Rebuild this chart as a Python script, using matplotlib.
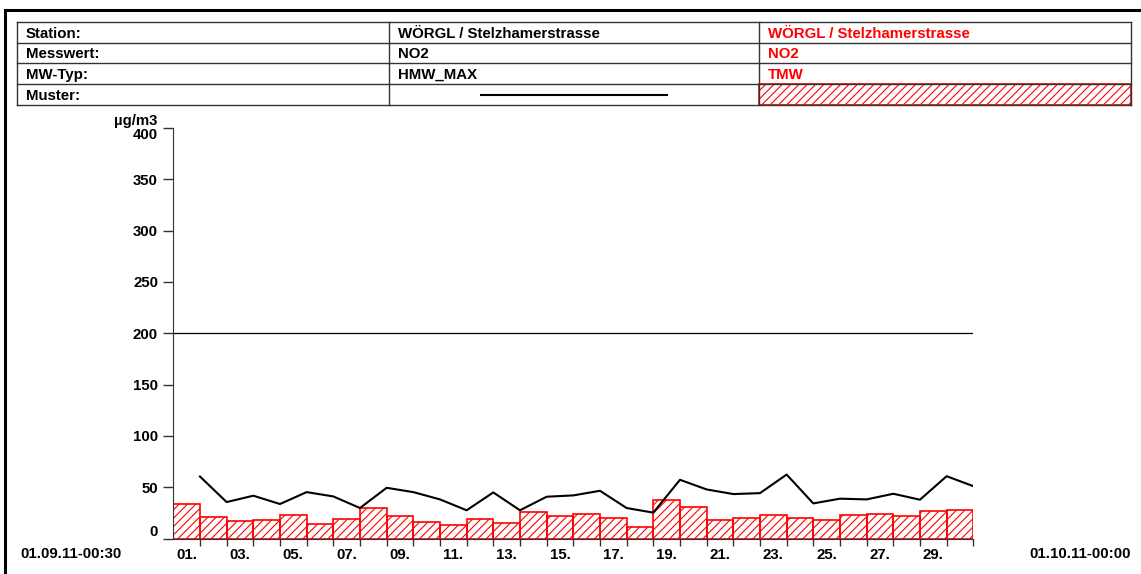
import numpy as np
import matplotlib
matplotlib.use('Agg')
import matplotlib.pyplot as plt
import matplotlib.patches as mpatches
from matplotlib.lines import Line2D

plt.rcParams['font.family'] = ['Liberation Sans', 'DejaVu Sans']
plt.rcParams['font.weight'] = 'bold'
plt.rcParams['hatch.linewidth'] = 0.8

# ---- data ----
days = np.arange(1, 31)
hmw_max = [60.4, 35.5, 41.7, 33.6, 45.2, 41.0, 29.7, 49.4, 45.2, 38.1,
           27.5, 44.9, 27.5, 40.7, 42.0, 46.5, 29.7, 25.2, 57.2, 47.8,
           43.3, 44.2, 62.3, 34.2, 38.8, 38.1, 43.6, 37.8, 60.7, 51.0]
tmw = [33.3, 21.0, 17.1, 17.8, 22.6, 14.5, 19.4, 29.7, 22.3, 16.5,
       13.6, 19.4, 15.5, 25.5, 21.6, 23.9, 20.0, 11.6, 37.8, 31.0,
       18.4, 20.3, 23.3, 20.3, 17.8, 23.3, 24.2, 22.0, 26.5, 27.8]
limit = 200
y_ticks = [0, 50, 100, 150, 200, 250, 300, 350, 400]
day_labels = [f'{d:02d}.' for d in range(1, 31, 2)]

row_labels = ['Station:', 'Messwert:', 'MW-Typ:', 'Muster:']
col_black = ['WÖRGL / Stelzhamerstrasse', 'NO2', 'HMW_MAX']
col_red = ['WÖRGL / Stelzhamerstrasse', 'NO2', 'TMW']
start_label = '01.09.11-00:30'
end_label = '01.10.11-00:00'

W, H = 1141, 574
fig = plt.figure(figsize=(W / 100, H / 100), dpi=100)


def fx(x):
    return x / W


def fy(y):
    return 1 - y / H


FS = 10.8

# ---- outer frame (top + left) ----
fig.add_artist(Line2D([fx(5), fx(W)], [fy(9.5), fy(9.5)], color='black', lw=2.2))
fig.add_artist(Line2D([fx(5), fx(5)], [fy(9.5), fy(H)], color='black', lw=2.2))

# ---- header table ----
xs = [17, 389, 759, 1131]
ys = [22, 43, 63, 84, 105]
grid_c = '#333333'
for y in ys:
    fig.add_artist(Line2D([fx(xs[0]), fx(xs[-1])], [fy(y), fy(y)], color=grid_c, lw=1))
for x in xs:
    fig.add_artist(Line2D([fx(x), fx(x)], [fy(ys[0]), fy(ys[-1])], color=grid_c, lw=1))

for i, lab in enumerate(row_labels):
    yb = fy(ys[i + 1] - 5)
    fig.text(fx(xs[0] + 9), yb, lab, fontsize=FS, va='baseline', ha='left')
    if i < 3:
        fig.text(fx(xs[1] + 9), yb, col_black[i], fontsize=FS, va='baseline', ha='left')
        fig.text(fx(xs[2] + 9), yb, col_red[i], fontsize=FS, va='baseline', ha='left',
                 color='red')

# Muster row: line sample and hatch sample
ym = fy(95)
fig.add_artist(Line2D([fx(481), fx(667)], [ym, ym], color='black', lw=1.5))
hatch_box = mpatches.Rectangle((fx(xs[2]), fy(ys[4])), fx(xs[3] - xs[2]),
                               (ys[4] - ys[3]) / H, transform=fig.transFigure,
                               facecolor='none', edgecolor='red', hatch='////', lw=1.2)
fig.add_artist(hatch_box)

# ---- chart ----
ax = fig.add_axes([fx(173.3), 1 - 538.5 / H, 800 / W, 410.5 / H])
ax.bar(days - 0.5, tmw, width=1, facecolor='none', edgecolor='red',
       hatch='////', lw=1.2, zorder=2)
ax.plot(days, hmw_max, color='black', lw=1.5, zorder=3)
ax.plot([0, 30], [limit, limit], color='black', lw=0.9, zorder=1)

ax.set_xlim(0, 30)
ax.set_ylim(0, 400)
for s in ['top', 'right']:
    ax.spines[s].set_visible(False)
ax.spines['left'].set_color('#333333')
ax.spines['bottom'].set_color('#333333')

ax.set_yticks(y_ticks)
ax.set_yticklabels([str(v) for v in y_ticks], fontsize=FS)
ax.tick_params(axis='y', direction='out', length=7, width=1, pad=4, color='#333333')
ylabs = ax.get_yticklabels()
ylabs[0].set_va('bottom')
ylabs[-1].set_va('top')

ax.set_xticks(days)
ax.set_xticklabels([])
ax.tick_params(axis='x', which='major', direction='out', length=5, width=1, color='#333333')
ax.set_xticks(np.arange(1, 31, 2) - 0.5, minor=True)
ax.set_xticklabels(day_labels, minor=True, fontsize=FS)
ax.tick_params(axis='x', which='minor', length=0, pad=7)

fig.text(fx(157), fy(121), 'µg/m3', fontsize=FS, ha='right', va='center')
fig.text(fx(20), fy(554), start_label, fontsize=FS, ha='left', va='center')
fig.text(fx(1131), fy(554), end_label, fontsize=FS, ha='right', va='center')

fig.savefig('out.png', dpi=100)
